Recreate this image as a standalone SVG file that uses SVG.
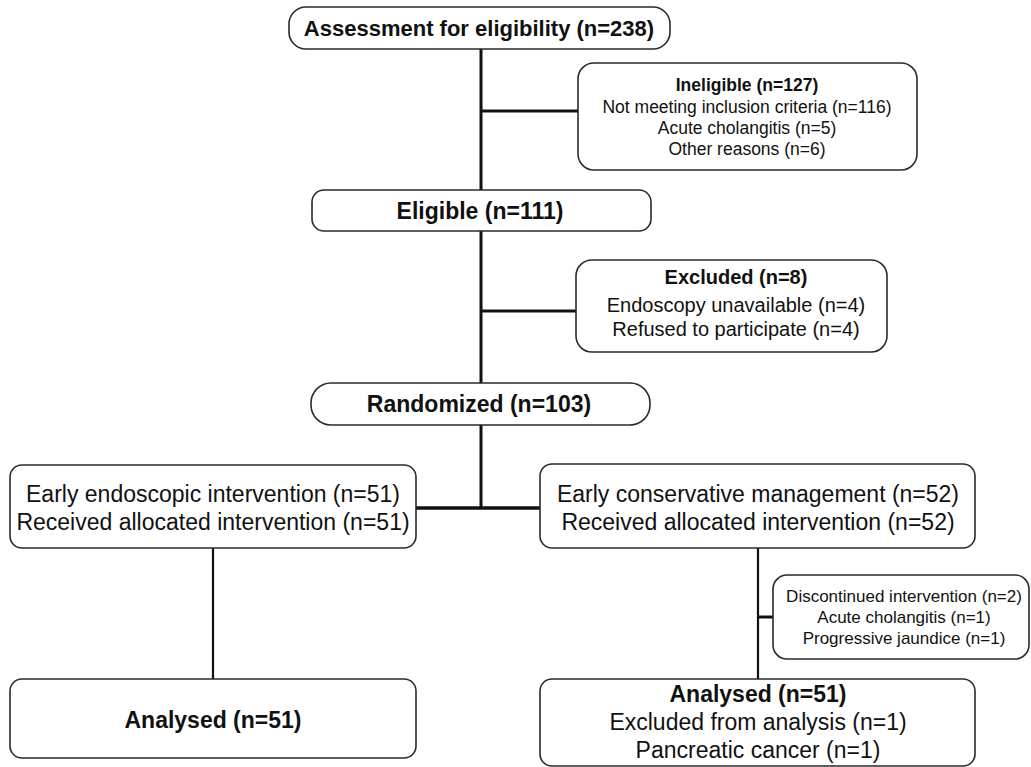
<svg xmlns="http://www.w3.org/2000/svg" width="1031" height="767" viewBox="0 0 1031 767">
<style>
.box{fill:#fff;stroke:#2a2a2a;stroke-width:1.6}
.t{font-family:"Liberation Sans",Arial,sans-serif;fill:#111;text-anchor:middle}
.b{font-weight:bold}
.ln{stroke:#111;fill:none}
</style>
<rect width="1031" height="767" fill="#fff"/>
<g id="connectors">
<line class="ln" x1="481" y1="49" x2="481" y2="191" stroke-width="3"/>
<line class="ln" x1="481" y1="111" x2="578" y2="111" stroke-width="3"/>
<line class="ln" x1="481" y1="231" x2="481" y2="384" stroke-width="3"/>
<line class="ln" x1="481" y1="311" x2="576" y2="311" stroke-width="3"/>
<line class="ln" x1="481" y1="425" x2="481" y2="509" stroke-width="3"/>
<line class="ln" x1="416" y1="508" x2="540" y2="508" stroke-width="3.5"/>
<line class="ln" x1="213" y1="548" x2="213" y2="679" stroke-width="2.2"/>
<line class="ln" x1="758" y1="548" x2="758" y2="679" stroke-width="2.2"/>
<line class="ln" x1="758" y1="617" x2="773" y2="617" stroke-width="3"/>
</g>
<g id="assessment">
<rect class="box" x="289" y="7" width="381" height="42" rx="17"/>
<text class="t b" x="479" y="36" font-size="22">Assessment for eligibility (n=238)</text>
</g>
<g id="ineligible">
<rect class="box" x="578" y="63" width="339" height="107" rx="16"/>
<text class="t b" x="747" y="91" font-size="17.5">Ineligible (n=127)</text>
<text class="t" x="747" y="113" font-size="17.5">Not meeting inclusion criteria (n=116)</text>
<text class="t" x="747" y="134" font-size="17.5">Acute cholangitis (n=5)</text>
<text class="t" x="747" y="155" font-size="17.5">Other reasons (n=6)</text>
</g>
<g id="eligible">
<rect class="box" x="312" y="190" width="339" height="41" rx="12"/>
<text class="t b" x="480" y="219" font-size="23">Eligible (n=111)</text>
</g>
<g id="excluded">
<rect class="box" x="576" y="260" width="311" height="92" rx="16"/>
<text class="t b" x="736" y="284" font-size="20">Excluded (n=8)</text>
<text class="t" x="736" y="312" font-size="20">Endoscopy unavailable (n=4)</text>
<text class="t" x="736" y="336" font-size="20">Refused to participate (n=4)</text>
</g>
<g id="randomized">
<rect class="box" x="311" y="383" width="339" height="42" rx="20"/>
<text class="t b" x="479" y="412" font-size="23">Randomized (n=103)</text>
</g>
<g id="early-endoscopic">
<rect class="box" x="10" y="465" width="406" height="83" rx="12"/>
<text class="t" x="213" y="502" font-size="23">Early endoscopic intervention (n=51)</text>
<text class="t" x="213" y="530" font-size="23">Received allocated intervention (n=51)</text>
</g>
<g id="early-conservative">
<rect class="box" x="540" y="464" width="435" height="84" rx="12"/>
<text class="t" x="758" y="502" font-size="23">Early conservative management (n=52)</text>
<text class="t" x="758" y="530" font-size="23">Received allocated intervention (n=52)</text>
</g>
<g id="discontinued">
<rect class="box" x="773" y="575" width="256" height="84" rx="14"/>
<text class="t" x="904" y="602" font-size="17">Discontinued intervention (n=2)</text>
<text class="t" x="904" y="623" font-size="17">Acute cholangitis (n=1)</text>
<text class="t" x="904" y="644" font-size="17">Progressive jaundice (n=1)</text>
</g>
<g id="analysed-left">
<rect class="box" x="10" y="679" width="406" height="79" rx="12"/>
<text class="t b" x="213" y="728" font-size="23">Analysed (n=51)</text>
</g>
<g id="analysed-right">
<rect class="box" x="540" y="679" width="435" height="87" rx="12"/>
<text class="t b" x="758" y="702" font-size="23">Analysed (n=51)</text>
<text class="t" x="758" y="730" font-size="23">Excluded from analysis (n=1)</text>
<text class="t" x="758" y="758" font-size="23">Pancreatic cancer (n=1)</text>
</g>
</svg>
